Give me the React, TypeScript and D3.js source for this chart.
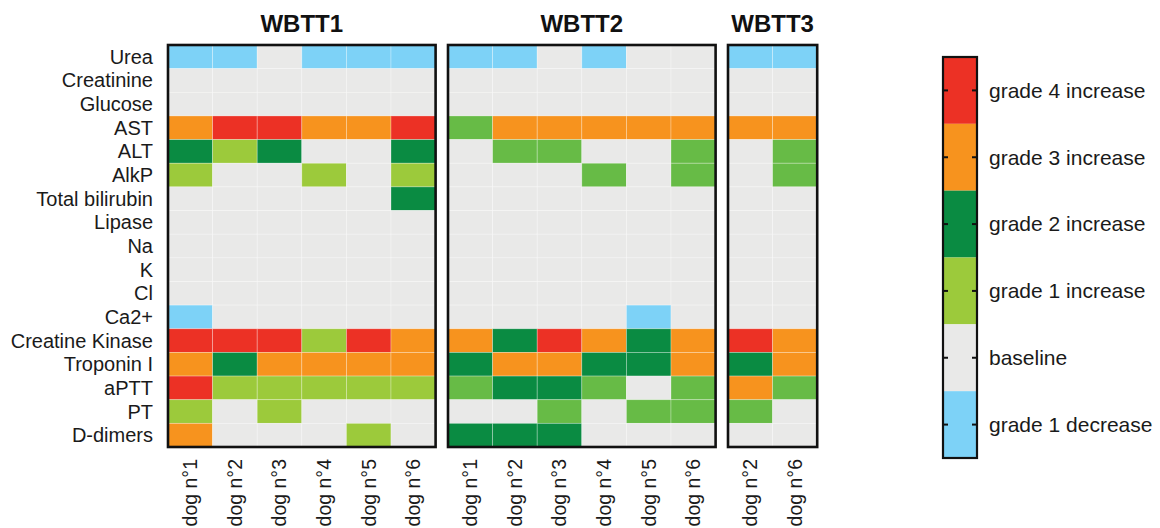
import { useEffect, useRef } from 'react'
import * as d3 from 'd3'

const params = [
  'Urea', 'Creatinine', 'Glucose', 'AST', 'ALT', 'AlkP', 'Total bilirubin', 'Lipase',
  'Na', 'K', 'Cl', 'Ca2+', 'Creatine Kinase', 'Troponin I', 'aPTT', 'PT', 'D-dimers'
]

// grade per parameter (rows) and dog (columns): -1 decrease, 0 baseline, 1..4 increase
const wbtt1Dogs = ['dog n°1', 'dog n°2', 'dog n°3', 'dog n°4', 'dog n°5', 'dog n°6']
const wbtt1Grades = [
  [-1, -1, 0, -1, -1, -1],
  [0, 0, 0, 0, 0, 0],
  [0, 0, 0, 0, 0, 0],
  [3, 4, 4, 3, 3, 4],
  [2, 1, 2, 0, 0, 2],
  [1, 0, 0, 1, 0, 1],
  [0, 0, 0, 0, 0, 2],
  [0, 0, 0, 0, 0, 0],
  [0, 0, 0, 0, 0, 0],
  [0, 0, 0, 0, 0, 0],
  [0, 0, 0, 0, 0, 0],
  [-1, 0, 0, 0, 0, 0],
  [4, 4, 4, 1, 4, 3],
  [3, 2, 3, 3, 3, 3],
  [4, 1, 1, 1, 1, 1],
  [1, 0, 1, 0, 0, 0],
  [3, 0, 0, 0, 1, 0],
]

const wbtt2Dogs = ['dog n°1', 'dog n°2', 'dog n°3', 'dog n°4', 'dog n°5', 'dog n°6']
const wbtt2Grades = [
  [-1, -1, 0, -1, 0, 0],
  [0, 0, 0, 0, 0, 0],
  [0, 0, 0, 0, 0, 0],
  [1, 3, 3, 3, 3, 3],
  [0, 1, 1, 0, 0, 1],
  [0, 0, 0, 1, 0, 1],
  [0, 0, 0, 0, 0, 0],
  [0, 0, 0, 0, 0, 0],
  [0, 0, 0, 0, 0, 0],
  [0, 0, 0, 0, 0, 0],
  [0, 0, 0, 0, 0, 0],
  [0, 0, 0, 0, -1, 0],
  [3, 2, 4, 3, 2, 3],
  [2, 3, 3, 2, 2, 3],
  [1, 2, 2, 1, 0, 1],
  [0, 0, 1, 0, 1, 1],
  [2, 2, 2, 0, 0, 0],
]

const wbtt3Dogs = ['dog n°2', 'dog n°6']
const wbtt3Grades = [
  [-1, -1],
  [0, 0],
  [0, 0],
  [3, 3],
  [0, 1],
  [0, 1],
  [0, 0],
  [0, 0],
  [0, 0],
  [0, 0],
  [0, 0],
  [0, 0],
  [4, 3],
  [2, 3],
  [3, 1],
  [1, 0],
  [0, 0],
]

const legendGrades = [4, 3, 2, 1, 0, -1]
const legendLabels = ['grade 4 increase', 'grade 3 increase', 'grade 2 increase', 'grade 1 increase', 'baseline', 'grade 1 decrease']

const gradeColors: Record<number, string> = {
  4: '#ec3125', 3: '#f7931e', 2: '#0a8b42', 1: '#9cca3b', 0: '#e9e9e8', [-1]: '#7dd2f7'
}
// the grade-1 green is printed a little darker in WBTT2 / WBTT3
const grade1Alt = '#67bb46'

const panels = [
  { title: 'WBTT1', dogs: wbtt1Dogs, grades: wbtt1Grades, g1: gradeColors[1] },
  { title: 'WBTT2', dogs: wbtt2Dogs, grades: wbtt2Grades, g1: grade1Alt },
  { title: 'WBTT3', dogs: wbtt3Dogs, grades: wbtt3Grades, g1: grade1Alt },
]

const FONT = '"Liberation Sans", Arial, Helvetica, sans-serif'

export default function App() {
  const ref = useRef<SVGSVGElement>(null)

  useEffect(() => {
    const svg = d3.select(ref.current)
    svg.selectAll('*').remove()

    const top = 45
    const bottom = 447
    const cellW = 44.6
    const gap = 12.4
    const left = 168

    const y = d3.scaleBand<string>().domain(params).range([top, bottom])

    // row labels
    svg.append('g')
      .selectAll('text')
      .data(params)
      .join('text')
      .attr('x', 153)
      .attr('y', d => y(d)! + y.bandwidth() / 2)
      .attr('dy', '0.35em')
      .attr('text-anchor', 'end')
      .attr('font-family', FONT)
      .attr('font-size', 20)
      .attr('fill', '#1a1a1a')
      .text(d => d)

    let x0 = left
    panels.forEach(p => {
      const w = p.dogs.length * cellW
      const x = d3.scaleBand<string>().domain(p.dogs).range([x0, x0 + w])
      const g = svg.append('g')

      const cells = p.grades.flatMap((row, i) =>
        row.map((v, j) => ({ param: params[i], dog: p.dogs[j], v })))

      g.selectAll('rect.cell')
        .data(cells)
        .join('rect')
        .attr('class', 'cell')
        .attr('x', d => x(d.dog)!)
        .attr('y', d => y(d.param)!)
        .attr('width', x.bandwidth())
        .attr('height', y.bandwidth())
        .attr('fill', d => (d.v === 1 ? p.g1 : gradeColors[d.v]))
        .attr('stroke', 'rgba(255,255,255,0.35)')
        .attr('stroke-width', 0.8)

      g.append('rect')
        .attr('x', x0)
        .attr('y', top)
        .attr('width', w)
        .attr('height', bottom - top)
        .attr('fill', 'none')
        .attr('stroke', '#111')
        .attr('stroke-width', 2.6)

      g.append('text')
        .attr('x', x0 + w / 2)
        .attr('y', 32)
        .attr('text-anchor', 'middle')
        .attr('font-family', FONT)
        .attr('font-weight', 'bold')
        .attr('font-size', 24)
        .attr('fill', '#111')
        .text(p.title)

      g.selectAll('text.dog')
        .data(p.dogs)
        .join('text')
        .attr('class', 'dog')
        .attr('transform', d => `translate(${x(d)! + x.bandwidth() / 2},459) rotate(-90)`)
        .attr('dy', '0.35em')
        .attr('text-anchor', 'end')
        .attr('font-family', FONT)
        .attr('font-size', 19.5)
        .attr('fill', '#1a1a1a')
        .text(d => d)

      x0 += w + gap
    })

    // Legend
    const lx = 943
    const lw = 34
    const ly = d3.scaleBand<number>().domain(legendGrades).range([57, 458])
    const leg = svg.append('g')

    leg.selectAll('rect.seg')
      .data(legendGrades)
      .join('rect')
      .attr('class', 'seg')
      .attr('x', lx)
      .attr('y', d => ly(d)!)
      .attr('width', lw)
      .attr('height', ly.bandwidth())
      .attr('fill', d => gradeColors[d])

    leg.append('rect')
      .attr('x', lx)
      .attr('y', 57)
      .attr('width', lw)
      .attr('height', 458 - 57)
      .attr('fill', 'none')
      .attr('stroke', '#111')
      .attr('stroke-width', 2.2)

    legendGrades.forEach((d, i) => {
      const cy = ly(d)! + ly.bandwidth() / 2
      leg.append('line')
        .attr('x1', lx - 1).attr('x2', lx + 5)
        .attr('y1', cy).attr('y2', cy)
        .attr('stroke', '#111').attr('stroke-width', 2)
      leg.append('line')
        .attr('x1', lx + lw - 5).attr('x2', lx + lw + 1)
        .attr('y1', cy).attr('y2', cy)
        .attr('stroke', '#111').attr('stroke-width', 2)
      leg.append('text')
        .attr('x', 989)
        .attr('y', cy)
        .attr('dy', '0.35em')
        .attr('font-family', FONT)
        .attr('font-size', 21)
        .attr('fill', '#1a1a1a')
        .text(legendLabels[i])
    })
  }, [])

  return (
    <svg
      ref={ref}
      width={1160}
      height={528}
      style={{ position: 'absolute', left: 0, top: 0, background: '#fff' }}
    />
  )
}
